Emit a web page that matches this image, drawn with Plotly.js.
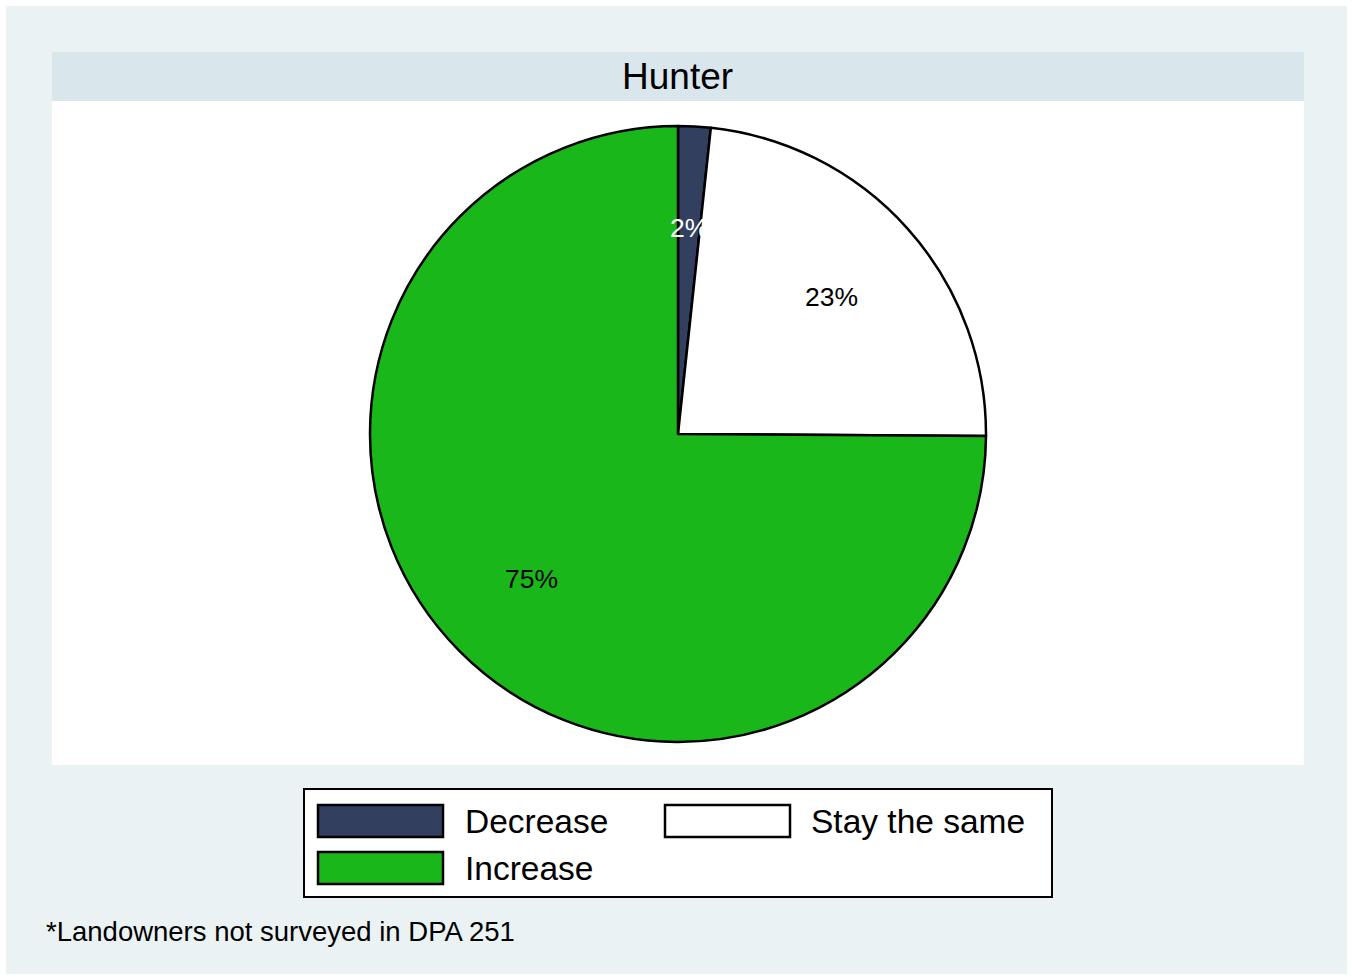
<!DOCTYPE html>
<html>
<head>
<meta charset="utf-8">
<script src="https://cdn.plot.ly/plotly-3.0.1.min.js"></script>
<style>html,body{margin:0;padding:0;background:#fff;}#chart{width:1352px;height:979px;}</style>
</head>
<body>
<div id="chart"></div>
<script>
// Data
var categories = ["Decrease", "Stay the same", "Increase"];
var values = [1.7, 23.4, 74.9];
var colors = ["#333f5f", "#ffffff", "#1ab71a"];
var labelColors = ["#ffffff", "#000000", "#000000"];
var titleText = "Hunter";
var noteText = "*Landowners not surveyed in DPA 251";
// legend order (Stata fills row-wise)
var legendOrder = [0, 1, 2];

var W = 1352, H = 979;
function px(x) { return x / W; }
function py(y) { return 1 - y / H; }

var cx = 678, cy = 434, R = 308;
var FONT = 'Liberation Sans, Arial, sans-serif';

var shapes = [
  {type:'rect', xref:'paper', yref:'paper', x0:px(6), x1:px(1347), y0:py(974), y1:py(6), fillcolor:'#eaf2f3', line:{width:0}, layer:'below'},
  {type:'rect', xref:'paper', yref:'paper', x0:px(52), x1:px(1304), y0:py(101), y1:py(52), fillcolor:'#d9e6eb', line:{width:0}, layer:'below'},
  {type:'rect', xref:'paper', yref:'paper', x0:px(52), x1:px(1304), y0:py(765), y1:py(101), fillcolor:'#ffffff', line:{width:0}, layer:'below'},
  {type:'rect', xref:'paper', yref:'paper', x0:px(304), x1:px(1052), y0:py(897), y1:py(789), fillcolor:'#ffffff', line:{color:'#000000', width:2}, layer:'below'}
];

var annotations = [
  {text:titleText, xref:'paper', yref:'paper', x:px(678), y:py(76), xanchor:'center', yanchor:'middle', showarrow:false, font:{family:FONT, size:37, color:'#000'}},
  {text:noteText, xref:'paper', yref:'paper', x:px(44), y:py(931), xanchor:'left', yanchor:'middle', showarrow:false, font:{family:FONT, size:27.5, color:'#000'}}
];

// slice labels from data
var total = values.reduce(function(a,b){return a+b;}, 0);
var cum = 0;
for (var i = 0; i < values.length; i++) {
  var mid = (cum + values[i] / 2) / total;
  cum += values[i];
  var th = (90 - 360 * mid) * Math.PI / 180;
  var lx = cx + 0.67 * R * Math.cos(th);
  var ly = cy - 0.67 * R * Math.sin(th);
  annotations.push({text: Math.round(values[i] / total * 100) + '%', xref:'paper', yref:'paper', x:px(lx), y:py(ly), xanchor:'center', yanchor:'middle', showarrow:false, font:{family:FONT, size:26.5, color:labelColors[i]}});
}

// legend drawn from categories/colors
var colX = [[318, 443, 463], [665, 790, 809]];
var rowY = [[805, 837], [852, 884]];
legendOrder.forEach(function(idx, k) {
  var c = colX[k % 2], r = rowY[Math.floor(k / 2)];
  shapes.push({type:'rect', xref:'paper', yref:'paper', x0:px(c[0]), x1:px(c[1]), y0:py(r[1]), y1:py(r[0]), fillcolor:colors[idx], line:{color:'#000', width:2.5}});
  annotations.push({text:categories[idx], xref:'paper', yref:'paper', x:px(c[2]), y:py((r[0]+r[1])/2), xanchor:'left', yanchor:'middle', showarrow:false, font:{family:FONT, size:33.5, color:'#000'}});
});

var trace = {
  type:'pie', labels:categories, values:values, sort:false, direction:'clockwise', rotation:0,
  marker:{colors:colors, line:{color:'#000000', width:2.5}},
  textinfo:'none', hoverinfo:'label+percent', showlegend:false,
  domain:{x:[px(cx-R), px(cx+R)], y:[py(cy+R), py(cy-R)]}
};

var layout = {
  width:W, height:H, margin:{l:0, r:0, t:0, b:0},
  paper_bgcolor:'#ffffff', showlegend:false,
  shapes:shapes, annotations:annotations
};

Plotly.newPlot('chart', [trace], layout, {displayModeBar:false, staticPlot:true});
</script>
</body>
</html>
